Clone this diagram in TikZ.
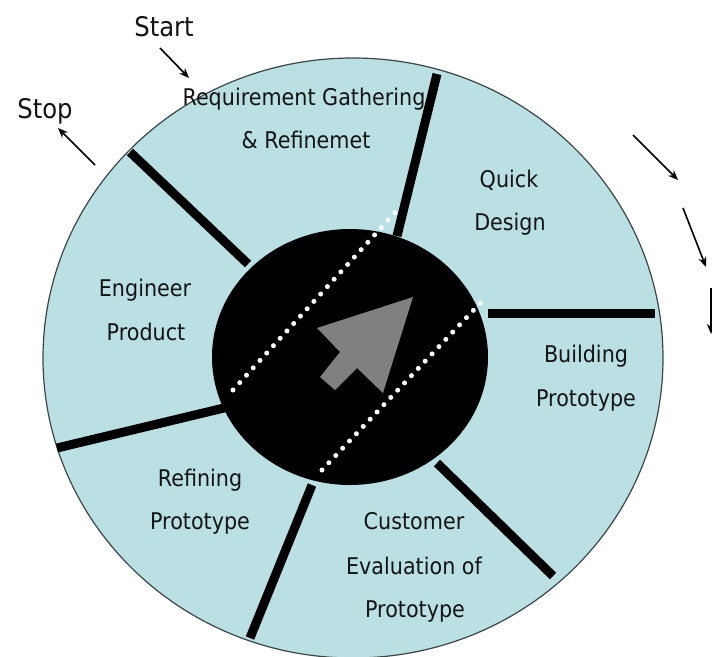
\documentclass[tikz,border=0pt]{standalone}
\usepackage{fontspec}
\setmainfont{DejaVu Sans}[FakeStretch=0.9]
\usetikzlibrary{arrows.meta}
\definecolor{ringfill}{RGB}{186,224,228}
\definecolor{ringedge}{RGB}{60,70,70}
\definecolor{txt}{RGB}{20,20,20}
\definecolor{arrowgray}{RGB}{128,128,128}
\begin{document}
\begin{tikzpicture}[x=1pt,y=-1pt,
  lbl/.style={font=\fontsize{23}{23}\selectfont, text=txt, inner sep=0pt, anchor=base},
  biglbl/.style={font=\fontsize{27}{27}\selectfont, text=txt, inner sep=0pt, anchor=base},
  divider/.style={line width=9pt, black},
  dotline/.style={white, line width=5pt, line cap=round, dash pattern=on 0pt off 10pt},
  flow/.style={line width=1.6pt, black, -{Stealth[length=10pt,width=8pt]}}]
\useasboundingbox (0,0) rectangle (712,656);
% outer ring
\fill[ringfill] (353,358) ellipse [x radius=310pt, y radius=300pt];
\draw[ringedge, line width=1.2pt] (353,358) ellipse [x radius=310pt, y radius=300pt];
% labels
\node[lbl] (req1) at (304,105) {Requirement Gathering};
\node[lbl] (req2) at (306,148) {\& Refinemet};
\node[lbl] (qd1) at (509,187) {Quick};
\node[lbl] (qd2) at (510,230) {Design};
\node[lbl] (bp1) at (586,362) {Building};
\node[lbl] (bp2) at (586,406) {Prototype};
\node[lbl] (ce1) at (414,529) {Customer};
\node[lbl] (ce2) at (414,574) {Evaluation of};
\node[lbl] (ce3) at (415,617) {Prototype};
\node[lbl] (rp1) at (200,486) {Refining};
\node[lbl] (rp2) at (200,529) {Prototype};
\node[lbl] (ep1) at (145,296) {Engineer};
\node[lbl] (ep2) at (146,340) {Product};
\node[biglbl] (start) at (164,36) {Start};
\node[biglbl] (stop) at (45,118) {Stop};
% inner hub
\fill[black] (350,357) ellipse [x radius=138pt, y radius=128pt];
% dividers
\coordinate (d1o) at (437,74);  \coordinate (d1i) at (397,236);
\coordinate (d2i) at (488,313); \coordinate (d2o) at (655,313);
\coordinate (d3i) at (437,463); \coordinate (d3o) at (553,576);
\coordinate (d4i) at (312,485); \coordinate (d4o) at (250,638);
\coordinate (d5i) at (224,408); \coordinate (d5o) at (57,448);
\coordinate (d6o) at (130,152); \coordinate (d6i) at (248,264);
\draw[divider] (d1o) -- (d1i);
\draw[divider] (d2i) -- (d2o);
\draw[divider] (d3i) -- (d3o);
\draw[divider] (d4i) -- (d4o);
\draw[divider] (d5i) -- (d5o);
\draw[divider] (d6o) -- (d6i);
% dotted lines
\coordinate (da1) at (233,390); \coordinate (da2) at (401,206);
\coordinate (db1) at (322,470); \coordinate (db2) at (486,297);
\draw[dotline] (da1) -- (da2);
\draw[dotline] (db1) -- (db2);
% grey arrow
\fill[arrowgray] (413,297) -- (317,328) -- (340,352) -- (320,377) -- (335,390)
  -- (357,368) -- (383,393) -- cycle;
% flow arrows
\coordinate (sa1) at (160,48);  \coordinate (sa2) at (189,78);
\coordinate (sp1) at (95,165);  \coordinate (sp2) at (58,128);
\coordinate (r1a) at (633,135); \coordinate (r1b) at (678,180);
\coordinate (r2a) at (683,208); \coordinate (r2b) at (706,267);
\coordinate (r3a) at (711,288); \coordinate (r3b) at (711,334);
\draw[flow] (sa1) -- (sa2);
\draw[flow] (sp1) -- (sp2);
\draw[flow] (r1a) -- (r1b);
\draw[flow] (r2a) -- (r2b);
\draw[flow] (r3a) -- (r3b);
\end{tikzpicture}
\end{document}
